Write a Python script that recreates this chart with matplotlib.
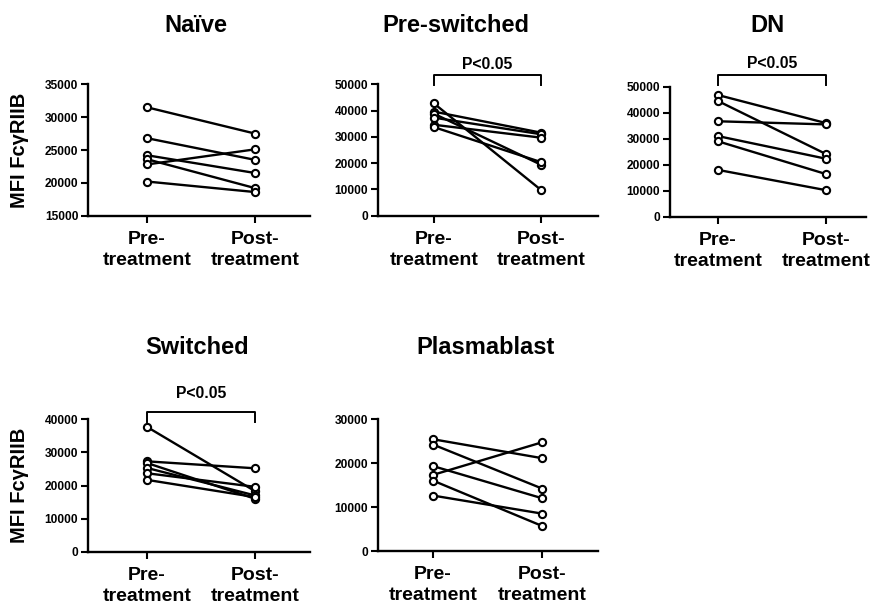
import numpy as np
from matplotlib import pyplot as plt

plt.rcParams['font.family'] = ['Liberation Sans', 'DejaVu Sans']
plt.rcParams['font.weight'] = 'bold'

groups = ["Pre-\ntreatment", "Post-\ntreatment"]

# values (MFI FcγRIIB), one pair per donor
naive_pre  = [31500, 26800, 24200, 23600, 22800, 20200]
naive_post = [27500, 23500, 21500, 19200, 25100, 18600]

preswitch_pre  = [42700, 39600, 38800, 37300, 34600, 33700]
preswitch_post = [9800, 31600, 19400, 31000, 29700, 20400]

dn_pre  = [46800, 44500, 36700, 31000, 29000, 18000]
dn_post = [36000, 24100, 35500, 22300, 16400, 10200]

switched_pre  = [37700, 27300, 26800, 25300, 23700, 21700]
switched_post = [18300, 25200, 16000, 17000, 19600, 16500]

plasma_pre  = [25400, 24200, 19300, 17300, 16000, 12600]
plasma_post = [21100, 14200, 12000, 24700, 5700, 8500]

# name, pre, post, ylim, ytick step, show ylabel, significance
panels = [
    ("Naïve",        naive_pre,     naive_post,     (15000, 35000), 5000,  True,  False),
    ("Pre-switched", preswitch_pre, preswitch_post, (0, 50000),     10000, False, True),
    ("DN",           dn_pre,        dn_post,        (0, 50000),     10000, False, True),
    ("Switched",     switched_pre,  switched_post,  (0, 40000),     10000, True,  True),
    ("Plasmablast",  plasma_pre,    plasma_post,    (0, 30000),     10000, False, False),
]

W, H = 876, 605
# axes boxes in pixels: left, right, top, bottom, pre-tick x, post-tick x
boxes = [
    (88, 310, 84.3, 215.7, 147, 255),
    (378, 598, 84.3, 215.7, 434, 541),
    (670, 866, 86.7, 216.7, 718, 826),
    (88, 310, 419.3, 551.7, 147, 255),
    (378, 598, 419.0, 551.0, 433, 542),
]
title_y   = [1.40, 1.40, 1.42, 1.49, 1.49]
title_dx  = [-0.05, -0.30, -0.04, -0.04, -0.02]
bracket_y = [0, 1.071, 1.09, 1.057, 0]
ptext_y   = [0, 1.12, 1.14, 1.16, 0]

fig = plt.figure(figsize=(W/100, H/100), dpi=100)

for i, (name, pre, post, ylim, step, ylab, sig) in enumerate(panels):
    l, r, t, b, xp, xq = boxes[i]
    ax = fig.add_axes([l/W, 1 - b/H, (r - l)/W, (b - t)/H])
    unit = xq - xp
    ax.set_xlim(-(xp - l)/unit, 1 + (r - xq)/unit)
    ax.set_ylim(*ylim)

    for a, c in zip(pre, post):
        ax.plot([0, 1], [a, c], color="black", lw=1.7, marker="o", ms=5.2,
                mfc="white", mec="black", mew=1.5, clip_on=False, zorder=3)

    ax.set_xticks([0, 1])
    ax.set_xticklabels(groups, fontsize=14, fontweight="bold", linespacing=1.3)
    ax.set_yticks(np.arange(ylim[0], ylim[1] + 1, step))
    ax.tick_params(axis="y", labelsize=8.6, length=5, width=1.5, pad=2)
    ax.tick_params(axis="x", length=5, width=1.5, pad=6)
    for lab in ax.get_yticklabels():
        lab.set_fontweight("bold")

    for s in ["top", "right"]:
        ax.spines[s].set_visible(False)
    for s in ["left", "bottom"]:
        ax.spines[s].set_linewidth(1.7)

    if ylab:
        ax.set_ylabel("MFI FcγRIIB", fontsize=14.5, fontweight="bold", labelpad=11)

    ax.text(0.5 + title_dx[i], title_y[i], name, transform=ax.get_xaxis_transform(),
            ha="center", va="baseline", fontsize=17, fontweight="bold")

    if sig:
        tr = ax.get_xaxis_transform()
        by = bracket_y[i]
        ax.plot([0, 0, 1, 1], [by - 0.075, by, by, by - 0.075], color="black",
                lw=1.4, transform=tr, clip_on=False)
        ax.text(0.5, ptext_y[i], "P<0.05", transform=tr, ha="center",
                va="baseline", fontsize=11.3, fontweight="bold")

fig.savefig("out.png", dpi=100)
